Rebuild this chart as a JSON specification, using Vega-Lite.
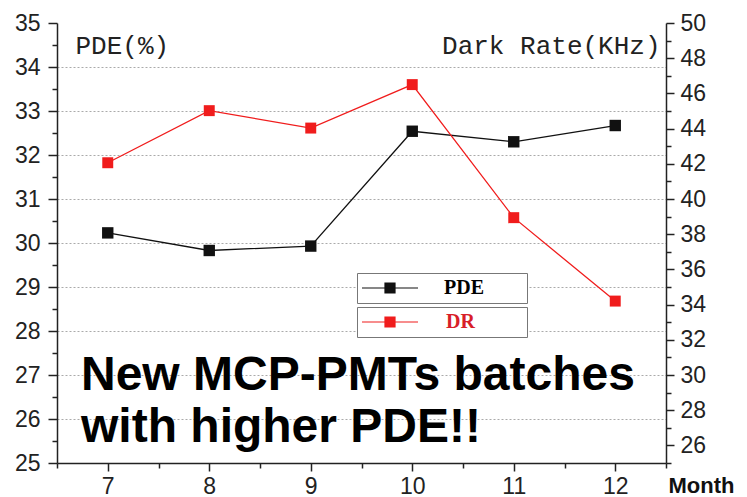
{
  "$schema": "https://vega.github.io/schema/vega-lite/v6.json",
  "width": 609,
  "height": 440,
  "autosize": {"type": "none"},
  "padding": {"left": 57, "top": 23, "right": 81, "bottom": 34},
  "background": "white",
  "data": {
    "values": [
      {"month": 7, "PDE": 30.23, "DR": 42.06},
      {"month": 8, "PDE": 29.83, "DR": 45.02},
      {"month": 9, "PDE": 29.93, "DR": 44.03},
      {"month": 10, "PDE": 32.54, "DR": 46.5},
      {"month": 11, "PDE": 32.3, "DR": 38.94},
      {"month": 12, "PDE": 32.67, "DR": 34.2}
    ]
  },
  "title": {
    "text": ["New MCP-PMTs batches", "with higher PDE!!"],
    "orient": "top",
    "anchor": "start",
    "frame": "group",
    "baseline": "top",
    "offset": 0,
    "dx": 24,
    "dy": 440,
    "font": "Liberation Sans",
    "fontSize": 48,
    "fontWeight": "bold",
    "color": "black",
    "lineHeight": 52
  },
  "config": {
    "view": {"stroke": null},
    "axis": {
      "domainColor": "#222",
      "domainWidth": 1.5,
      "tickColor": "#222",
      "tickWidth": 1.5,
      "labelFont": "Liberation Sans",
      "labelFontSize": 23,
      "labelColor": "#222",
      "labelFlush": false,
      "labelOverlap": false,
      "labelBound": false,
      "grid": false,
      "titleFont": "Liberation Mono",
      "titleFontSize": 26,
      "titleFontWeight": "normal",
      "titleColor": "#222"
    }
  },
  "encoding": {
    "x": {
      "field": "month",
      "type": "quantitative",
      "scale": {"domain": [6.5, 12.5], "nice": false, "zero": false},
      "axis": {
        "values": [6.5, 7, 7.5, 8, 8.5, 9, 9.5, 10, 10.5, 11, 11.5, 12, 12.5],
        "labelExpr": "datum.value % 1 == 0 ? format(datum.value, 'd') : ''",
        "tickSize": {"condition": {"test": "datum.value % 1 != 0", "value": 5}, "value": 8},
        "labelPadding": 4,
        "title": "Month",
        "titleX": 611,
        "titleY": 22,
        "titleAlign": "left",
        "titleBaseline": "middle",
        "titleAngle": 0,
        "titleFont": "Liberation Sans",
        "titleFontWeight": "bold",
        "titleFontSize": 22,
        "titleColor": "#111"
      }
    }
  },
  "layer": [
    {
      "encoding": {
        "y": {
          "field": "PDE",
          "type": "quantitative",
          "scale": {"domain": [25, 35], "nice": false, "zero": false},
          "axis": {
            "orient": "left",
            "values": [25, 25.5, 26, 26.5, 27, 27.5, 28, 28.5, 29, 29.5, 30, 30.5, 31, 31.5, 32, 32.5, 33, 33.5, 34, 34.5, 35],
            "labelExpr": "datum.value % 1 == 0 ? format(datum.value, 'd') : ''",
            "tickSize": {"condition": {"test": "datum.value % 1 != 0", "value": 5}, "value": 9},
            "labelPadding": 8,
            "grid": true,
            "gridColor": "#aaa",
            "gridDash": [2, 2],
            "gridWidth": 1,
            "gridOpacity": {"condition": {"test": "datum.value % 1 != 0 || datum.value == 25 || datum.value == 35", "value": 0}, "value": 1},
            "title": "PDE(%)",
            "titleAngle": 0,
            "titleX": 18,
            "titleY": 22,
            "titleAlign": "left",
            "titleBaseline": "middle"
          }
        },
        "color": {
          "datum": "PDE",
          "scale": {"domain": ["PDE"], "range": ["#111111"]},
          "legend": {
            "orient": "none",
            "legendX": 300,
            "legendY": 250,
            "title": null,
            "symbolType": "M-5.6,0H5.6M-1,-1H1V1H-1ZM25.8,0h0.001",
            "symbolSize": 100,
            "symbolOffset": 18,
            "symbolStrokeWidth": 1.2,
            "symbolStrokeColor": "#333",
            "symbolFillColor": "#000",
            "symbolOpacity": 1,
            "labelFont": "Liberation Serif",
            "labelFontSize": 20,
            "labelFontWeight": "bold",
            "labelColor": "black",
            "labelOffset": 44,
            "padding": 5,
            "strokeColor": "#777",
            "fillColor": "white",
            "encode": {
              "symbols": {"update": {"stroke": {"value": "#333"}, "strokeWidth": {"value": 1.2}, "fill": {"value": "black"}, "opacity": {"value": 1}}}
            }
          }
        }
      },
      "layer": [
        {"mark": {"type": "line", "strokeWidth": 1.3}},
        {"mark": {"type": "point", "shape": "square", "filled": true, "size": 130, "opacity": 1}}
      ]
    },
    {
      "encoding": {
        "y": {
          "field": "DR",
          "type": "quantitative",
          "scale": {"domain": [25, 50], "nice": false, "zero": false},
          "axis": {
            "orient": "right",
            "values": [25, 26, 27, 28, 29, 30, 31, 32, 33, 34, 35, 36, 37, 38, 39, 40, 41, 42, 43, 44, 45, 46, 47, 48, 49, 50],
            "labelExpr": "datum.value % 2 == 0 ? format(datum.value, 'd') : ''",
            "tickSize": {"condition": {"test": "datum.value % 2 != 0", "value": 5}, "value": 8},
            "labelPadding": 6,
            "grid": false,
            "title": "Dark Rate(KHz)",
            "titleAngle": 0,
            "titleX": -6,
            "titleY": 22,
            "titleAlign": "right",
            "titleBaseline": "middle"
          }
        },
        "color": {
          "datum": "DR",
          "scale": {"domain": ["DR"], "range": ["#f01c1c"]},
          "legend": {
            "orient": "none",
            "legendX": 300,
            "legendY": 284,
            "title": null,
            "symbolType": "M-5.6,0H5.6M-1,-1H1V1H-1ZM25.8,0h0.001",
            "symbolSize": 100,
            "symbolOffset": 18,
            "symbolStrokeWidth": 1.2,
            "symbolStrokeColor": "#f01c1c",
            "symbolFillColor": "#ff0000",
            "symbolOpacity": 1,
            "labelFont": "Liberation Serif",
            "labelFontSize": 20,
            "labelFontWeight": "bold",
            "labelColor": "#d81e28",
            "labelOffset": 46,
            "padding": 5,
            "strokeColor": "#777",
            "fillColor": "white",
            "encode": {
              "symbols": {"update": {"stroke": {"value": "#f01c1c"}, "strokeWidth": {"value": 1.2}, "fill": {"value": "#ff0000"}, "opacity": {"value": 1}}}
            }
          }
        }
      },
      "layer": [
        {"mark": {"type": "line", "strokeWidth": 1.3}},
        {"mark": {"type": "point", "shape": "square", "filled": true, "size": 120, "opacity": 1}}
      ]
    }
  ],
  "resolve": {"scale": {"y": "independent", "color": "independent"}}
}
